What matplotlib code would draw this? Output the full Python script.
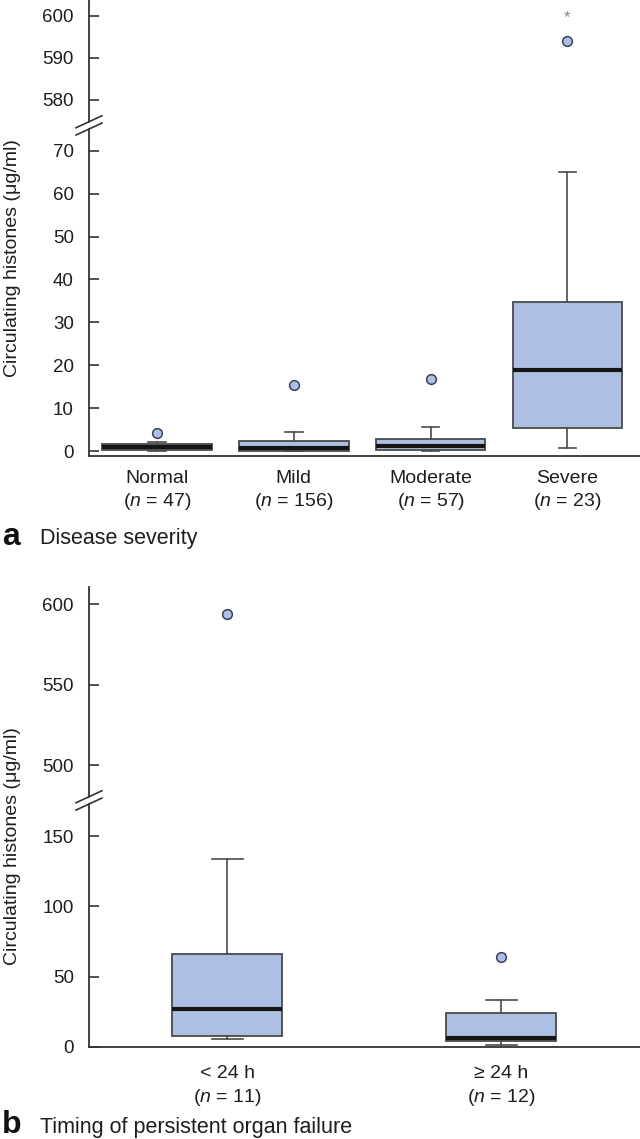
import matplotlib
matplotlib.use("Agg")
import matplotlib.pyplot as plt
from matplotlib.lines import Line2D
from matplotlib.patches import Polygon

plt.rcParams['font.family'] = ['Liberation Sans', 'DejaVu Sans']
plt.rcParams['mathtext.fontset'] = 'custom'
plt.rcParams['mathtext.rm'] = 'Liberation Sans'
plt.rcParams['mathtext.it'] = 'Liberation Sans:italic'

# ---------------- data: panel a (disease severity) ----------------
sev_labels = ["Normal", "Mild", "Moderate", "Severe"]
sev_n = [47, 156, 57, 23]
sev_whislo = [0.1, 0.0, 0.1, 0.7]
sev_q1 = [0.35, 0.1, 0.2, 5.4]
sev_med = [0.95, 0.8, 1.1, 18.9]
sev_q3 = [1.55, 2.3, 2.7, 34.8]
sev_whishi = [2.2, 4.4, 5.6, 65.0]
sev_outliers = [[4.1], [15.4], [16.9], [594.0]]
sev_star = [None, None, None, 599.5]

# ---------------- data: panel b (timing of persistent organ failure) ----------------
tim_labels = ["< 24 h", "\u2265 24 h"]
tim_n = [11, 12]
tim_whislo = [5.3, 1.0]
tim_q1 = [7.5, 4.0]
tim_med = [27.0, 6.0]
tim_q3 = [66.0, 24.0]
tim_whishi = [134.0, 33.0]
tim_outliers = [[594.0], [64.0]]

sev_ticks_top = [580, 590, 600]
sev_ticks_bot = [0, 10, 20, 30, 40, 50, 60, 70]
tim_ticks_top = [500, 550, 600]
tim_ticks_bot = [0, 50, 100, 150]

FILL = '#adc0e4'
EDGE = '#4a4a4a'
SPINE = '#333333'
TXT = '#1e1e1e'
TICK_FS = 13.5
CAT_FS = 14
YLAB_FS = 14
TITLE_FS = 15.5
LETTER_FS = 23

W, H = 640, 1139
fig = plt.figure(figsize=(W / 100, H / 100), dpi=100)


def rect(x0, y0, x1, y1):
    return [x0 / W, 1 - y1 / H, (x1 - x0) / W, (y1 - y0) / H]


def px(x, y):
    return (x / W, 1 - y / H)


def make_stats(labels, lo, q1, med, q3, hi, fl):
    return [dict(label=l, whislo=a, q1=b, med=c, q3=d, whishi=e, fliers=f)
            for l, a, b, c, d, e, f in zip(labels, lo, q1, med, q3, hi, fl)]


def draw(ax, stats, width, capw):
    pos = list(range(1, len(stats) + 1))
    ax.bxp(stats, positions=pos, widths=width, capwidths=capw, patch_artist=True,
           showfliers=True,
           boxprops=dict(facecolor=FILL, edgecolor=EDGE, linewidth=1.3),
           medianprops=dict(color='#151515', linewidth=3.0, solid_capstyle='butt'),
           whiskerprops=dict(color=EDGE, linewidth=1.2),
           capprops=dict(color=EDGE, linewidth=1.2),
           flierprops=dict(marker='o', markerfacecolor=FILL, markeredgecolor='#3a3f55',
                           markersize=7, markeredgewidth=1.1))


def style(ax, ticks, bottom, xpad):
    for s in ('top', 'right'):
        ax.spines[s].set_visible(False)
    ax.spines['left'].set_color(SPINE)
    ax.spines['left'].set_linewidth(1.3)
    if bottom:
        ax.spines['bottom'].set_color(SPINE)
        ax.spines['bottom'].set_linewidth(1.3)
    else:
        ax.spines['bottom'].set_visible(False)
    ax.set_yticks(ticks)
    ax.set_yticklabels([str(t) for t in ticks])
    ax.tick_params(axis='y', direction='in', length=7.5, width=1.2, color=SPINE,
                   pad=11, labelsize=TICK_FS, labelcolor=TXT)
    ax.tick_params(axis='x', length=0, labelsize=CAT_FS, labelcolor=TXT, pad=xpad)


def brk(yc):
    slope_dx, slope_dy = 13, 6
    for dy in (-3.65, 3.65):
        cx, cy = 89, yc + dy
        (x0, y0), (x1, y1) = px(cx - slope_dx, cy + slope_dy), px(cx + slope_dx, cy - slope_dy)
        fig.add_artist(Line2D([x0, x1], [y0, y1], color=SPINE, lw=1.2, zorder=6))
    k = slope_dy / slope_dx
    pts = []
    for x, d in ((86, -3.65 + 1), (92, -3.65 + 1), (92, 3.65 - 1), (86, 3.65 - 1)):
        pts.append(px(x, yc + d - (x - 89) * k))
    fig.add_artist(Polygon(pts, closed=True, facecolor='white', edgecolor='none', zorder=5))


# ---------------- panel a ----------------
st_a = make_stats(sev_labels, sev_whislo, sev_q1, sev_med, sev_q3, sev_whishi, sev_outliers)
axa_top = fig.add_axes(rect(89, 0, 640, 125))
axa_bot = fig.add_axes(rect(89, 125, 640, 456))
for ax in (axa_top, axa_bot):
    draw(ax, st_a, 0.8, 0.128)
    ax.set_xlim(0.503, 4.53)
axa_top.set_ylim(574.0, 603.8)
axa_bot.set_ylim(-1.16, 76.0)
style(axa_top, sev_ticks_top, False, 8)
style(axa_bot, sev_ticks_bot, True, 10)
axa_top.set_xticks([])
axa_bot.set_xticks(range(1, len(sev_labels) + 1))
axa_bot.set_xticklabels([f"{l}\n($\\mathit{{n}}$ = {n})" for l, n in zip(sev_labels, sev_n)],
                        linespacing=1.3)
for i, s in enumerate(sev_star):
    if s is not None:
        axa_top.text(i + 1, s, '*', ha='center', va='center', color='#888888', fontsize=12)
brk(125.4)

fig.text(13 / W, 1 - 258 / H, 'Circulating histones (\u03bcg/ml)', rotation=90,
         ha='center', va='center', fontsize=YLAB_FS, color=TXT)
fig.text(2 / W, 1 - 545 / H, 'a', fontsize=LETTER_FS, fontweight='bold', va='baseline',
         color='#111111')
fig.text(40 / W, 1 - 544 / H, 'Disease severity', fontsize=TITLE_FS, va='baseline', color=TXT)

# ---------------- panel b ----------------
st_b = make_stats(tim_labels, tim_whislo, tim_q1, tim_med, tim_q3, tim_whishi, tim_outliers)
axb_top = fig.add_axes(rect(89, 587, 640, 800))
axb_bot = fig.add_axes(rect(89, 800, 640, 1047))
for ax in (axb_top, axb_bot):
    draw(ax, st_b, 0.40, 0.113)
    ax.set_xlim(0.496, 2.507)
axb_top.set_ylim(478.3, 610.6)
axb_bot.set_ylim(-0.3, 176.0)
style(axb_top, tim_ticks_top, False, 8)
style(axb_bot, tim_ticks_bot, True, 13)
axb_top.set_xticks([])
axb_bot.set_xticks(range(1, len(tim_labels) + 1))
axb_bot.set_xticklabels([f"{l}\n($\\mathit{{n}}$ = {n})" for l, n in zip(tim_labels, tim_n)],
                        linespacing=1.35)
brk(800.4)

fig.text(13 / W, 1 - 846 / H, 'Circulating histones (\u03bcg/ml)', rotation=90,
         ha='center', va='center', fontsize=YLAB_FS, color=TXT)
fig.text(2 / W, 1 - 1133 / H, 'b', fontsize=LETTER_FS, fontweight='bold', va='baseline',
         color='#111111')
fig.text(40 / W, 1 - 1133 / H, 'Timing of persistent organ failure', fontsize=TITLE_FS,
         va='baseline', color=TXT)

fig.savefig('out.png', dpi=100)
